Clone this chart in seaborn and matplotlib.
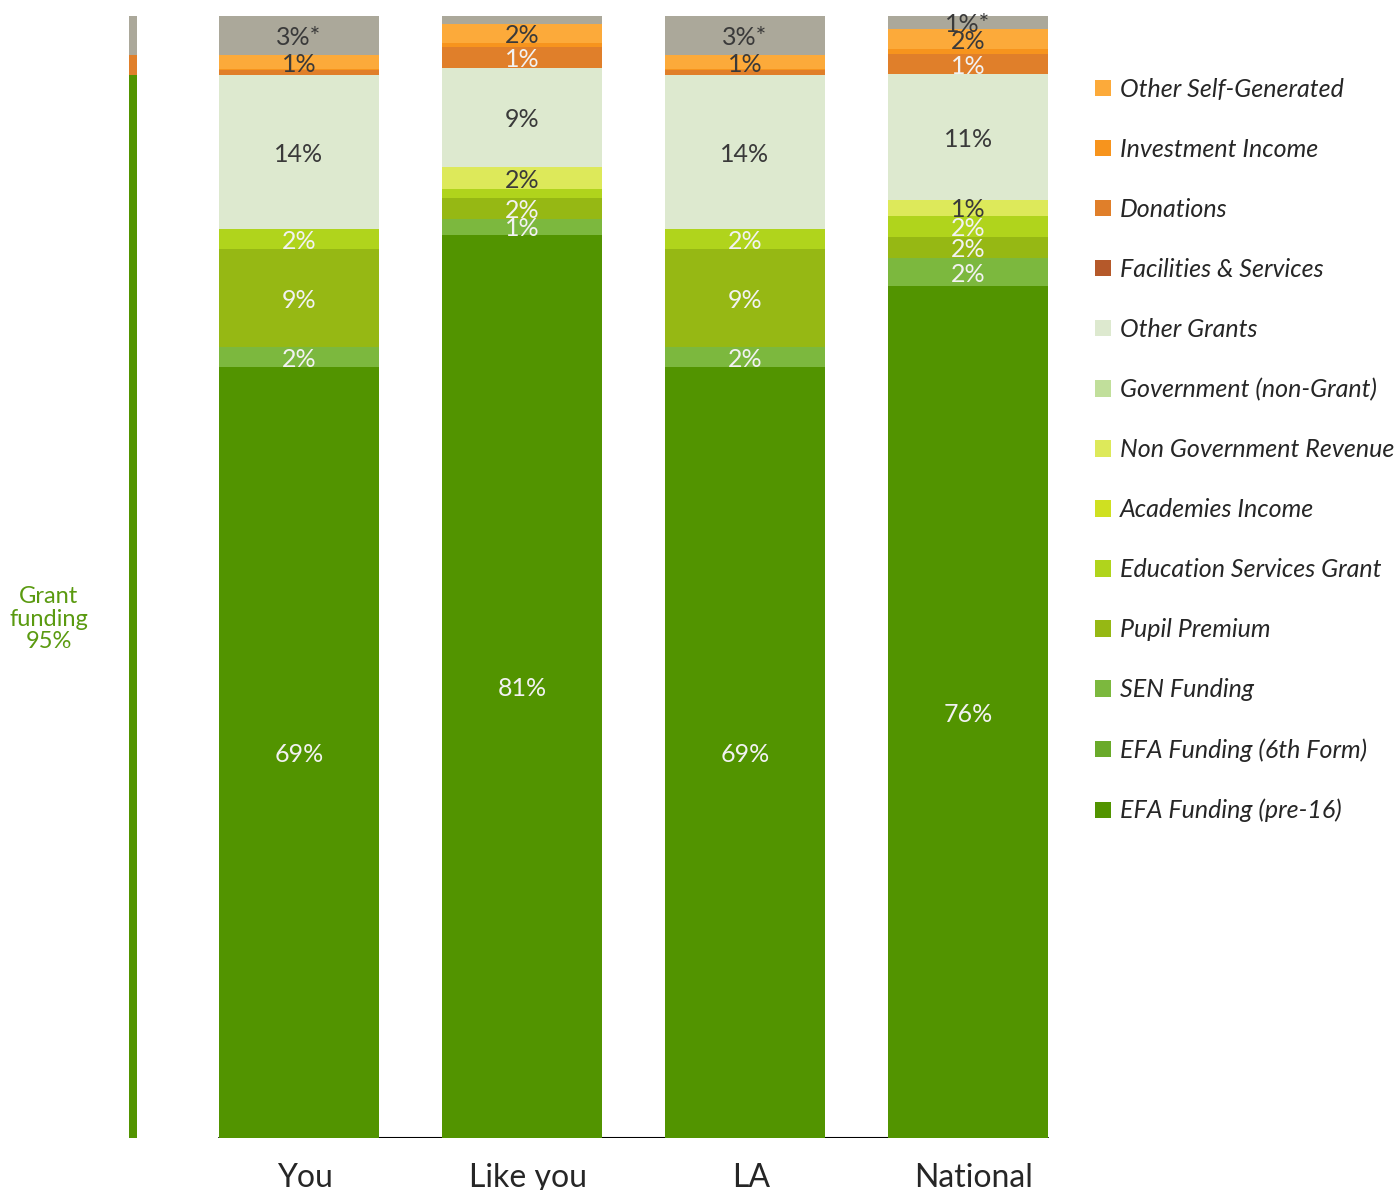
import pandas as pd
import seaborn as sns
import matplotlib.pyplot as plt
import matplotlib.transforms as mtransforms
from matplotlib.patches import Patch

groups = ["You", "Like you", "LA", "National"]

# income categories, top of the stack first ("Other" is the grey, unlisted remainder)
categories = ["Other", "Other Self-Generated", "Investment Income", "Donations",
              "Facilities & Services", "Other Grants", "Government (non-Grant)",
              "Non Government Revenue", "Academies Income", "Education Services Grant",
              "Pupil Premium", "SEN Funding", "EFA Funding (6th Form)", "EFA Funding (pre-16)"]

# percent of income, per group (You, Like you, LA, National)
other = [3.5, 0.8, 3.5, 1.2]
other_self_generated = [1.2, 1.7, 1.2, 1.8]
investment_income = [0.1, 0.35, 0.1, 0.45]
donations = [0.5, 1.8, 0.5, 1.8]
facilities_services = [0, 0, 0, 0]
other_grants = [13.7, 8.9, 13.7, 11.2]
government_non_grant = [0, 0, 0, 0]
non_government_revenue = [0, 1.9, 0, 1.4]
academies_income = [0, 0, 0, 0]
education_services_grant = [1.8, 0.8, 1.8, 1.9]
pupil_premium = [8.7, 1.9, 8.7, 1.9]
sen_funding = [1.8, 1.4, 1.8, 2.5]
efa_6th_form = [0, 0, 0, 0]
efa_pre16 = [68.7, 80.5, 68.7, 75.9]

# segment labels as printed on the chart
other_labels = ["3%*", "", "3%*", "1%*"]
self_generated_labels = ["1%", "2%", "1%", "2%"]
donations_labels = ["", "1%", "", "1%"]
other_grants_labels = ["14%", "9%", "14%", "11%"]
non_gov_labels = ["", "2%", "", "1%"]
esg_labels = ["2%", "", "2%", "2%"]
pupil_premium_labels = ["9%", "2%", "9%", "2%"]
sen_labels = ["2%", "1%", "2%", "2%"]
efa_pre16_labels = ["69%", "81%", "69%", "76%"]

values = dict(zip(categories, [other, other_self_generated, investment_income, donations,
                               facilities_services, other_grants, government_non_grant,
                               non_government_revenue, academies_income, education_services_grant,
                               pupil_premium, sen_funding, efa_6th_form, efa_pre16]))
labels = {"Other": other_labels, "Other Self-Generated": self_generated_labels,
          "Donations": donations_labels, "Other Grants": other_grants_labels,
          "Non Government Revenue": non_gov_labels, "Education Services Grant": esg_labels,
          "Pupil Premium": pupil_premium_labels, "SEN Funding": sen_labels,
          "EFA Funding (pre-16)": efa_pre16_labels}

colors = {"Other": "#aba89a", "Other Self-Generated": "#fcaa3a", "Investment Income": "#f7941d",
          "Donations": "#e07f2a", "Facilities & Services": "#b5592a", "Other Grants": "#dde9cf",
          "Government (non-Grant)": "#c1df9b", "Non Government Revenue": "#dde95a",
          "Academies Income": "#cfe021", "Education Services Grant": "#b0d41c",
          "Pupil Premium": "#96b814", "SEN Funding": "#7cb83e",
          "EFA Funding (6th Form)": "#6aaa2a", "EFA Funding (pre-16)": "#529400"}
dark_text = ["Other", "Other Self-Generated", "Other Grants", "Non Government Revenue"]

grant_cats = ["Other Grants", "Government (non-Grant)", "Education Services Grant",
              "Pupil Premium", "SEN Funding", "EFA Funding (6th Form)", "EFA Funding (pre-16)"]
self_cats = ["Other Self-Generated", "Investment Income", "Donations", "Facilities & Services"]

rows = []
for cat in categories:
    for i, g in enumerate(groups):
        rows.append({"pos": i, "group": g, "category": cat, "value": values[cat][i]})
df = pd.DataFrame(rows)

sns.set_style("white")
plt.rcParams['font.family'] = ['Lato', 'DejaVu Sans']

fig = plt.figure(figsize=(13.99, 11.9), dpi=100)
ax = fig.add_axes([100/1399, 52/1190, 980/1399, 1122/1190])

sns.histplot(data=df, x="pos", weights="value", hue="category", hue_order=categories,
             palette=colors, multiple="stack", discrete=True, shrink=160/223,
             linewidth=0, alpha=1, legend=False, ax=ax, zorder=2)

# thin summary bar for "You": grant / self-generated / other
grant = sum(values[c][0] for c in grant_cats)
self_gen = sum(values[c][0] for c in self_cats)
ax.bar([-0.744] * 3, [grant, self_gen, other[0]], bottom=[0, grant, grant + self_gen],
       width=8/223, color=["#529400", "#e07f2a", "#aba89a"], linewidth=0, zorder=2)
fig.text(49/1399, 1 - 619/1190, "Grant\nfunding\n%d%%" % round(grant), color="#5a9a10",
         ha="center", va="center", fontsize=17, linespacing=1.1)

# segment labels
for i in range(len(groups)):
    base = 0
    for cat in categories[::-1]:
        v = values[cat][i]
        if cat in labels and labels[cat][i]:
            ax.text(i, base + v / 2, labels[cat][i], ha="center", va="center_baseline",
                    fontsize=18, color="#3a3a3a" if cat in dark_text else "#f2f2f2", zorder=3)
        base += v

ax.axhline(0, xmin=(219-100)/980, xmax=(1048-100)/980, color="black", lw=1.5, zorder=1)
ax.set_ylim(0, 100)
ax.set_xlim(-0.892, 3.502)
ax.set_xticks(range(len(groups)), groups)
ax.tick_params(axis="x", length=0, pad=18, labelsize=23)
shift = mtransforms.ScaledTranslation(6/100, 0, fig.dpi_scale_trans)
for lab in ax.get_xticklabels():
    lab.set_transform(lab.get_transform() + shift)
ax.set_yticks([])
ax.set_xlabel("")
ax.set_ylabel("")
sns.despine(ax=ax, left=True, bottom=True)

handles = [Patch(facecolor=colors[c], edgecolor="none") for c in categories[1:]]
fig.legend(handles, categories[1:], loc="upper left", bbox_to_anchor=(1095/1399, 1 - 78/1190),
           frameon=False, prop={"style": "italic", "size": 18}, handlelength=0.62,
           handleheight=0.62, handletextpad=0.38, labelspacing=1.48, borderpad=0, borderaxespad=0)

fig.savefig("out.png", dpi=100)
